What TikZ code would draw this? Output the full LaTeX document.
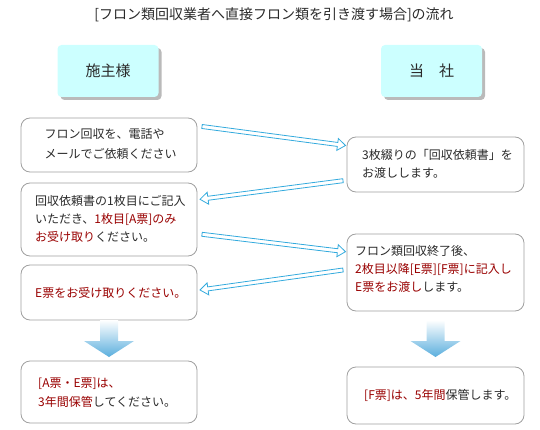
\documentclass[tikz,border=0pt]{standalone}
\usepackage{fontspec}
\setmainfont{Noto Sans CJK JP}
\usetikzlibrary{calc,shadows}
\definecolor{txtgray}{HTML}{2A2A2A}
\definecolor{txtred}{HTML}{990000}
\definecolor{boxline}{HTML}{A0A0A0}
\definecolor{headfill}{HTML}{CCFFFF}
\definecolor{arrowblue}{HTML}{33AADD}
\definecolor{downblue}{HTML}{5AAEDD}
\newcommand\redtxt[1]{\textcolor{txtred}{#1}}
% hollow arrow from coordinate #1 to coordinate #2
\newcommand\hollowarr[2]{%
  \draw[thinarrow] let \p1=($(#2)-(#1)$), \n1={atan2(\y1,\x1)}, \n2={veclen(\x1,\y1)} in
    ([shift={(#1)},rotate=\n1]0pt,2pt) --
    ([shift={(#1)},rotate=\n1]\n2-8pt,2pt) --
    ([shift={(#1)},rotate=\n1]\n2-8pt,6pt) --
    ([shift={(#1)},rotate=\n1]\n2+0pt,0pt) --
    ([shift={(#1)},rotate=\n1]\n2-8pt,-6pt) --
    ([shift={(#1)},rotate=\n1]\n2-8pt,-2pt) --
    ([shift={(#1)},rotate=\n1]0pt,-2pt) -- cycle;}
\begin{document}
\begin{tikzpicture}[x=1pt,y=-1pt,
  title/.style={font=\fontsize{14}{16}\selectfont, text=txtgray, inner sep=0pt},
  headbox/.style={fill=headfill, rounded corners=4pt, inner sep=0pt,
    minimum width=101pt, minimum height=52pt, text=txtgray,
    font=\fontsize{15}{17}\selectfont,
    drop shadow={shadow xshift=3pt, shadow yshift=-3pt, opacity=0.45, fill=black!60}},
  stepbox/.style={draw=boxline, line width=0.8pt, rounded corners=9pt, inner sep=0pt,
    fill=white},
  bodytxt/.style={anchor=west, align=left, inner sep=0pt, text=txtgray},
  thinarrow/.style={draw=arrowblue, line width=0.8pt, fill=white, line join=miter},
  downarrow/.style={shading=axis, top color=white, bottom color=downblue, draw=none}
]
\useasboundingbox (0,0) rectangle (540,430);

\node[title] (title) at (274,14.5) {[フロン類回収業者へ直接フロン類を引き渡す場合]の流れ};

\node[headbox] (client) at (108,71) {施主様};
\node[headbox] (us) at (431.5,71) {当　社};

% left column
\node[stepbox, minimum width=176pt, minimum height=54pt] (L1) at (109,145) {};
\node[stepbox, minimum width=176pt, minimum height=73pt] (L2) at (109,219.5) {};
\node[stepbox, minimum width=176pt, minimum height=55pt] (L3) at (109,292.5) {};
\node[stepbox, minimum width=176pt, minimum height=62pt] (L4) at (109,392) {};
% right column
\node[stepbox, minimum width=177pt, minimum height=55pt] (R1) at (435.5,164.5) {};
\node[stepbox, minimum width=177pt, minimum height=77pt] (R2) at (435.5,272.5) {};
\node[stepbox, minimum width=177pt, minimum height=57pt] (R3) at (435.5,395.5) {};

\node[bodytxt, font=\fontsize{12}{19.5}\selectfont] (L1t) at (44.5,144)
  {フロン回収を、電話や\\メールでご依頼ください};
\node[bodytxt, font=\fontsize{12}{17.5}\selectfont] (R1t) at (362,164)
  {3枚綴りの「回収依頼書」を\\お渡しします。};
\node[bodytxt, font=\fontsize{12}{18.4}\selectfont] (L2t) at (35,219)
  {回収依頼書の1枚目にご記入\\いただき、\redtxt{1枚目[A票]のみ}\\\redtxt{お受け取り}ください。};
\node[bodytxt, font=\fontsize{12}{18.4}\selectfont] (R2t) at (355,269)
  {フロン類回収終了後、\\\redtxt{2枚目以降[E票][F票]に記入し}\\\redtxt{E票をお渡し}します。};
\node[bodytxt, font=\fontsize{12}{19}\selectfont] (L3t) at (35,292.5)
  {\redtxt{E票をお受け取りください。}};
\node[bodytxt, font=\fontsize{12}{19}\selectfont] (L4t) at (38,393)
  {\redtxt{[A票・E票]は、}\\\redtxt{3年間保管}してください。};
\node[bodytxt, font=\fontsize{12}{19}\selectfont] (R3t) at (364,395.5)
  {\redtxt{[F票]は、5年間}保管します。};

% hollow arrows
\coordinate (a1s) at (202,126.5);   \coordinate (a1e) at (345.5,145.5);
\coordinate (a2s) at (343,180.7);   \coordinate (a2e) at (200,199.3);
\coordinate (a3s) at (202,234.3);   \coordinate (a3e) at (345.5,251.7);
\coordinate (a4s) at (343,270);     \coordinate (a4e) at (200,290);
\hollowarr{a1s}{a1e}
\hollowarr{a2s}{a2e}
\hollowarr{a3s}{a3e}
\hollowarr{a4s}{a4e}

% down arrows
\coordinate (dl) at (109,320);
\coordinate (dr) at (435.5,320);
\path[downarrow] ([xshift=-9pt]dl) -- ([xshift=9pt]dl) -- ([xshift=9pt,yshift=-21pt]dl)
  -- ([xshift=25pt,yshift=-21pt]dl) -- ([yshift=-37pt]dl) -- ([xshift=-25pt,yshift=-21pt]dl)
  -- ([xshift=-9pt,yshift=-21pt]dl) -- cycle;
\path[downarrow] ([xshift=-9pt]dr) -- ([xshift=9pt]dr) -- ([xshift=9pt,yshift=-21pt]dr)
  -- ([xshift=25pt,yshift=-21pt]dr) -- ([yshift=-37pt]dr) -- ([xshift=-25pt,yshift=-21pt]dr)
  -- ([xshift=-9pt,yshift=-21pt]dr) -- cycle;
\end{tikzpicture}
\end{document}
